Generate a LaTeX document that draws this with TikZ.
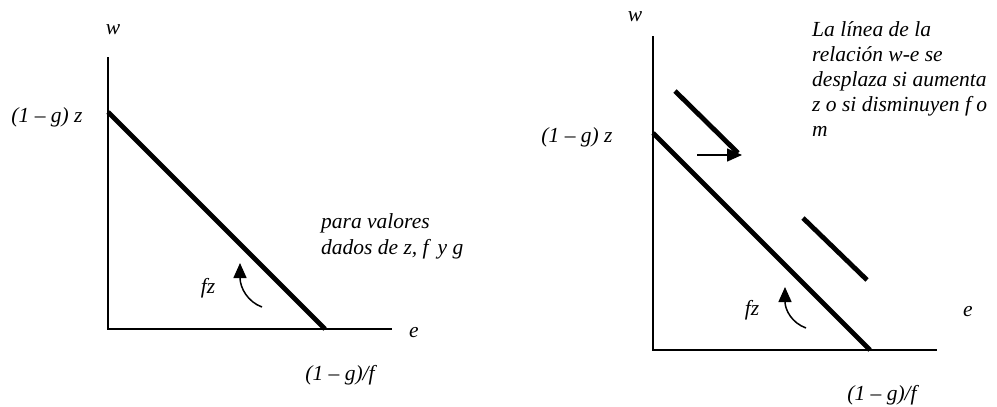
\documentclass[tikz,border=0pt]{standalone}
\usepackage{fontspec}
\setmainfont{Liberation Serif}
\usetikzlibrary{arrows.meta}
\begin{document}
\begin{tikzpicture}[x=1pt,y=-1pt,
  axis/.style={line width=1.6pt},
  relline/.style={line width=4.8pt},
  lbl/.style={font=\fontsize{21.5}{26}\selectfont\itshape, inner sep=0pt},
  curvearrow/.style={line width=1.5pt,-{Triangle[length=15pt,width=13pt]}},
  shiftarrow/.style={line width=1.5pt,-{Triangle[length=15pt,width=13pt]}}]
\useasboundingbox (0,0) rectangle (997,407);
% ---------- left panel ----------
\coordinate (Lo) at (108,329);
\coordinate (Ltop) at (108,57);
\coordinate (Lend) at (392,329);
\draw[axis] (Ltop) -- (Lo) -- (Lend);
\coordinate (La) at (108,112);
\coordinate (Lb) at (325,329);
\draw[relline] (La) -- (Lb);
\node[lbl] (Lw) at (113,30) {w};
\node[lbl] (Lz) at (47,117) {(1 – g) z};
\node[lbl] (Le) at (414,333) {e};
\node[lbl] (Lf) at (340,375) {(1 – g)/f};
\node[lbl, anchor=north west, align=left] (Lnote) at (321,213) {para valores\\dados de z, f\, y g};
\node[lbl] (Lfz) at (208,288) {fz};
\coordinate (Lct) at (262,307);
\coordinate (Lch) at (240,263);
\draw[curvearrow] (Lct) .. controls (248,302) and (240,288) .. (Lch);
% ---------- right panel ----------
\coordinate (Ro) at (653,350);
\coordinate (Rtop) at (653,36);
\coordinate (Rend) at (937,350);
\draw[axis] (Rtop) -- (Ro) -- (Rend);
\coordinate (Ra) at (653,133);
\coordinate (Rb) at (870,350);
\draw[relline] (Ra) -- (Rb);
\coordinate (Rua) at (675,91);
\coordinate (Rub) at (738,153);
\draw[relline] (Rua) -- (Rub);
\coordinate (Rla) at (803,218);
\coordinate (Rlb) at (867,280);
\draw[relline] (Rla) -- (Rlb);
\coordinate (Rs1) at (697,155);
\coordinate (Rs2) at (742,155);
\draw[shiftarrow] (Rs1) -- (Rs2);
\node[lbl] (Rw) at (635,17) {w};
\node[lbl] (Rz) at (577,137) {(1 – g) z};
\node[lbl] (Re) at (968,312) {e};
\node[lbl] (Rf) at (882,395) {(1 – g)/f};
\node[lbl] (Rfz) at (752,310) {fz};
\node[lbl, anchor=north west, align=left, font=\fontsize{21.5}{25}\selectfont\itshape] (Rnote) at (812,21) {La línea de la\\relación w-e se\\desplaza si aumenta\\z o si disminuyen f o\\m};
\coordinate (Rct) at (806,328);
\coordinate (Rch) at (785,287);
\draw[curvearrow] (Rct) .. controls (792,323) and (785,310) .. (Rch);
\end{tikzpicture}
\end{document}
